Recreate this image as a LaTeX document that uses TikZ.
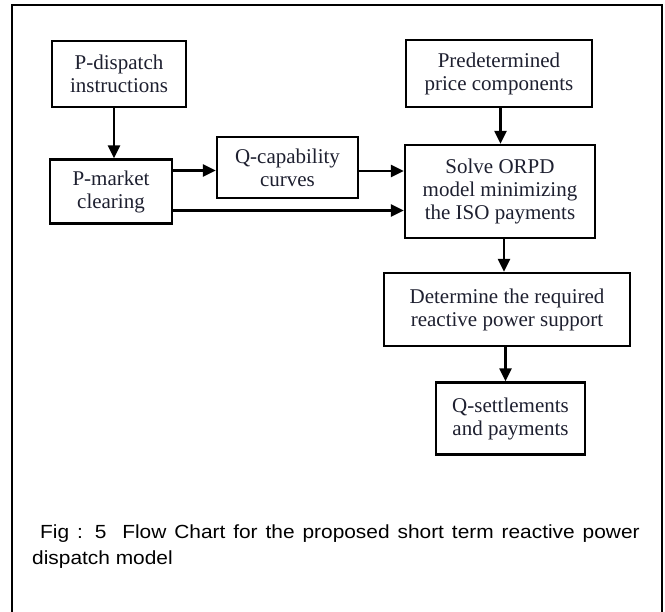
\documentclass[tikz,border=0pt]{standalone}
\usepackage{fontspec}
\setmainfont{Liberation Serif}
\newfontfamily\capfont{Liberation Sans}
\usetikzlibrary{arrows.meta}
\definecolor{boxtext}{RGB}{30,32,48}
\tikzset{
  flowbox/.style={draw=black, line width=2.4pt, align=center, inner sep=0pt,
    text=boxtext, font=\fontsize{21}{23}\selectfont},
  arr/.style={line width=2.4pt, -{Triangle[length=13pt,width=12pt]}},
  captext/.style={anchor=base west, inner sep=0pt, font=\capfont\fontsize{19}{21}\selectfont}
}
\begin{document}
\begin{tikzpicture}[x=1pt,y=-1pt]
\useasboundingbox (0,0) rectangle (665,612);
\clip (0,0) rectangle (665,612);
\fill[white] (0,0) rectangle (665,612);
% outer frame (bottom edge lies below the picture)
\draw[line width=2.2pt] (12,640) -- (12,5) -- (662,5) -- (662,640);

% boxes
\node[flowbox, minimum width=134pt, minimum height=66pt] (pd) at (119,74) {P-dispatch\\instructions};
\node[flowbox, minimum width=186pt, minimum height=67pt] (pp) at (499,73.5) {Predetermined\\price components};
\node[flowbox, minimum width=122pt, minimum height=64pt] (pm) at (111,191.5) {P-market\\clearing};
\node[flowbox, minimum width=141pt, minimum height=61pt] (qc) at (287.5,167.5) {Q-capability\\curves};
\node[flowbox, minimum width=190pt, minimum height=93pt] (so) at (500,191.5) {Solve ORPD\\model minimizing\\the ISO payments};
\node[flowbox, minimum width=246pt, minimum height=73pt] (de) at (507,309.5) {Determine the required\\reactive power support};
\node[flowbox, minimum width=149pt, minimum height=72pt] (qs) at (510.5,418.5) {Q-settlements\\and payments};

% connector guide coordinates
\coordinate (v1) at (114,0);
\coordinate (v2) at (500.5,0);
\coordinate (v3) at (504,0);
\coordinate (v4) at (505.5,0);
\coordinate (h1) at (0,170.5);
\coordinate (h2) at (0,171);
\coordinate (h3) at (0,210.5);

\draw[arr] (pd.south -| v1) -- (pm.north -| v1);
\draw[arr] (pm.east |- h1) -- (qc.west |- h1);
\draw[arr] (qc.east |- h2) -- (so.west |- h2);
\draw[arr] (pm.east |- h3) -- (so.west |- h3);
\draw[arr] (pp.south -| v2) -- (so.north -| v2);
\draw[arr] (so.south -| v3) -- (de.north -| v3);
\draw[arr] (de.south -| v4) -- (qs.north -| v4);

% caption
\node[captext] (cap1) at (40,539) {\scalebox{1.1}[1]{\makebox[545pt][s]{Fig : 5\ \ Flow Chart for the proposed short term reactive power}}};
\node[captext] (cap2) at (32,565) {\scalebox{1.1}[1]{dispatch model}};
\end{tikzpicture}
\end{document}
